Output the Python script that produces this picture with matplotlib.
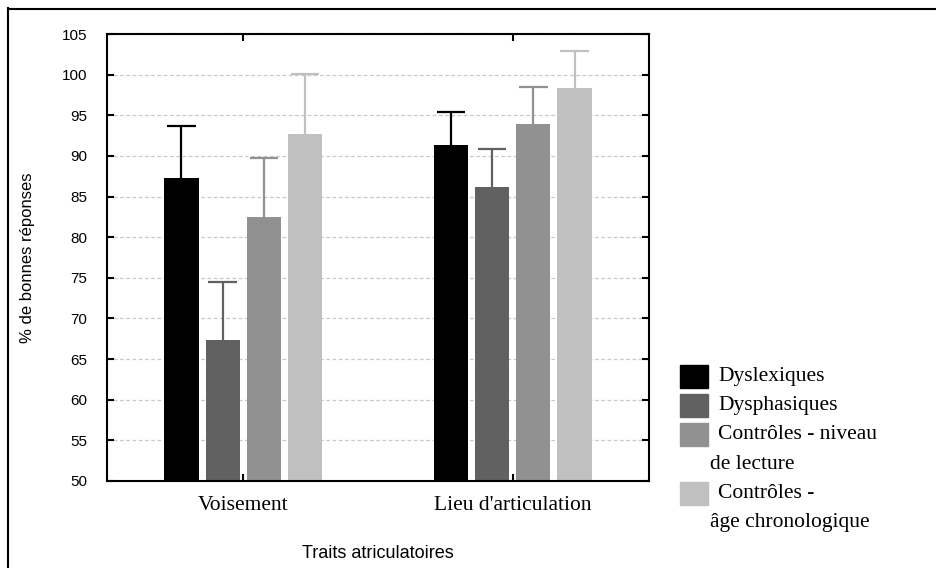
import numpy as np
import matplotlib
matplotlib.use("Agg")
import matplotlib.pyplot as plt
from matplotlib.patches import Rectangle
from matplotlib.lines import Line2D

# data
groups = ["Voisement", "Lieu d'articulation"]
series = ["Dyslexiques", "Dysphasiques", "Contrôles - niveau\nde lecture",
          "Contrôles -\nâge chronologique"]
means = {
    "Dyslexiques": [87.3, 91.3],
    "Dysphasiques": [67.3, 86.2],
    "Contrôles - niveau\nde lecture": [82.5, 93.9],
    "Contrôles -\nâge chronologique": [92.7, 98.3],
}
upper = {
    "Dyslexiques": [93.7, 95.4],
    "Dysphasiques": [74.5, 90.8],
    "Contrôles - niveau\nde lecture": [89.8, 98.5],
    "Contrôles -\nâge chronologique": [100.1, 102.9],
}
colors = ["#000000", "#616161", "#919191", "#c0c0c0"]
yticks = list(range(50, 106, 5))

W, H = 936, 568
fig = plt.figure(figsize=(W / 100, H / 100), dpi=100)
ax = fig.add_axes([107 / W, 1 - 481 / H, (649 - 107) / W, (481 - 34) / H])

x = np.arange(len(groups))
width = 0.126
step = 0.152
cap = 0.052
for i, name in enumerate(series):
    pos = x + (i - 1.5) * step
    vals = np.array(means[name])
    top = np.array(upper[name])
    ax.bar(pos, vals, width=width, bottom=0, color=colors[i], zorder=2)
    # upper error only
    ax.vlines(pos, vals, top, color=colors[i], linewidth=1.6, zorder=3)
    ax.hlines(top, pos - cap, pos + cap, color=colors[i], linewidth=1.6, zorder=3)

ax.set_xlim(-0.504, 1.504)
ax.set_ylim(50, 105)
ax.set_yticks(yticks)
ax.set_xticks(x)
ax.set_xticklabels(groups, family="Liberation Serif", fontsize=15.5)
for lab in ax.get_yticklabels():
    lab.set_family("Liberation Sans")
    lab.set_fontsize(11)

ax.yaxis.grid(True, linestyle=(0, (3, 2)), color="#c8c8c8", linewidth=0.9, zorder=0)
ax.tick_params(axis="y", direction="in", length=5, width=1.5, right=True, pad=14)
ax.tick_params(axis="x", direction="in", length=5, width=1.5, top=True, pad=11)
for sp in ax.spines.values():
    sp.set_linewidth(1.5)

ax.set_ylabel("% de bonnes réponses", family="Liberation Sans", fontsize=12)
ax.yaxis.set_label_coords((35 - 107) / (649 - 107), 0.5)
ax.set_xlabel("Traits atriculatoires", family="Liberation Sans", fontsize=13)
ax.xaxis.set_label_coords(0.5, -(545 - 481) / (481 - 34))

# legend drawn by hand, one line every ~29.4 px
line0, pitch = 376, 29.4
k = 0
for i, name in enumerate(series):
    yc = line0 + k * pitch
    fig.add_artist(Rectangle((680 / W, 1 - (yc + 11.5) / H), 28 / W, 23 / H,
                             transform=fig.transFigure, color=colors[i]))
    for j, txt in enumerate(name.split("\n")):
        xt = 718 if j == 0 else 710
        fig.text(xt / W, 1 - (line0 + k * pitch) / H, txt, family="Liberation Serif",
                 fontsize=15.5, va="center", ha="left")
        k += 1

# frame lines on left and top
fig.add_artist(Line2D([8 / W, 8 / W], [0, 1 - 8 / H], color="black", linewidth=1.5,
                      transform=fig.transFigure))
fig.add_artist(Line2D([8 / W, 1], [1 - 9 / H, 1 - 9 / H], color="black", linewidth=1.5,
                      transform=fig.transFigure))

fig.savefig("out.png", dpi=100)
